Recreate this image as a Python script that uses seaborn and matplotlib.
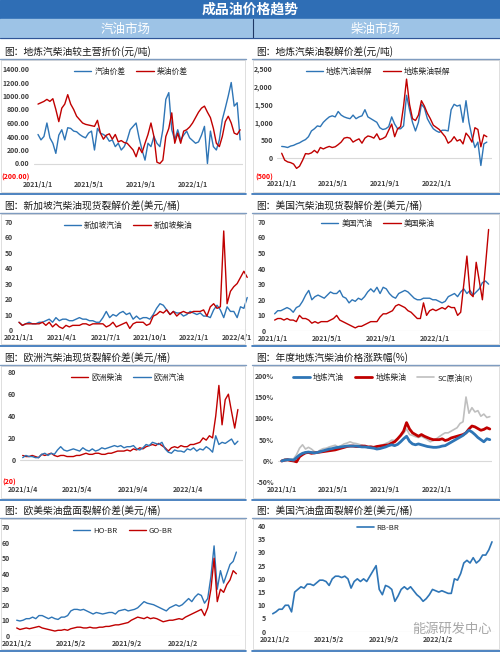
import pandas as pd
import numpy as np
import matplotlib
matplotlib.use("Agg")
import matplotlib.pyplot as plt
import seaborn as sns
from matplotlib.patches import Rectangle
from matplotlib.lines import Line2D

sns.set_style("white")
plt.rcParams['font.family'] = ['Noto Sans CJK SC', 'DejaVu Sans']
plt.rcParams['axes.unicode_minus'] = False

W, H = 500, 653
BLUE = "#2E75B6"
RED = "#C00000"
GRAY = "#BFBFBF"

# ---- data (weekly readings) ----
gas_disc = [430, 350, 400, 600, 380, 300, 150, 420, 500, 350, 530, 520, 480, 470, 430, 400, 380, 450, 480, 200,
            520, 450, 430, 400, 330, 350, 250, 300, 200, 250, 350, 500, 550, 600, 380, 200, 50, 300, 250, 400,
            300, 250, 500, 950, 1050, 500, 350, 500, 350, 420, 480, 380, 340, 300, 320, 420, 550, 0, 480, 250,
            200, 350, 650, 820, 1000, 1200, 850, 900, 350]
diesel_disc = [880, 900, 920, 950, 920, 960, 800, 620, 820, 880, 1020, 880, 800, 700, 650, 600, 580, 570, 560, 550,
               640, 450, 360, 420, 440, 360, 430, 320, 340, 310, 300, 250, 200, 100, 240, 160, 300, 430, 600, 400,
               20, 0, 50, 400, 520, 750, 300, 450, 300, 480, 500, 540, 600, 680, 760, 820, 850, 760, 680, 520,
               300, 250, 400, 620, 700, 600, 450, 430, 500]

local_gas_crack = [330, 320, 300, 340, 360, 400, 430, 480, 520, 600, 760, 820, 900, 880, 1000, 1080, 1150, 1180, 1150, 1300,
                   1200, 1150, 1120, 1100, 1200, 1100, 1150, 1180, 1350, 1150, 1100, 1050, 1000, 850, 800, 820, 880, 1150, 950, 820,
                   820, 900, 1750, 1350, 1000, 760, 1000, 1500, 1400, 1100, 950, 820, 760, 720, 780, 780, 760, 1350, 1500, 1450,
                   1480, 1000, 1600, 1000, 600, 300, 450, -200, 400, 450]
local_diesel_crack = [140, -50, -100, -120, -160, -280, -220, -60, 130, 120, 150, 220, 150, 300, 260, 300, 330, 300, 320, 380,
                      450, 560, 580, 560, 450, 500, 540, 420, 560, 620, 600, 560, 680, 520, 550, 600, 780, 950, 600, 820,
                      880, 1450, 2200, 1500, 1100, 1050, 1200, 1600, 1450, 1250, 1100, 920, 860, 800, 700, 600, 420, 480, 600, 480,
                      520, 400, 700, 600, 450, 850, 800, 320, 650, 600]

sg_gas = [5, 3, 4, 5, 4, 4, 5, 5, 6, 7, 5, 8, 6, 7, 7, 6, 6, 7, 8, 7,
          7, 6, 6, 5, 5, 8, 12, 8, 10, 9, 11, 12, 10, 11, 7, 9, 7, 8, 8, 7,
          10, 14, 17, 16, 13, 10, 12, 11, 11, 9, 10, 12, 11, 10, 11, 9, 9, 8, 13, 16,
          13, 8, 15, 12, 12, 8, 15, 14, 21]
sg_diesel = [5, 3, 4, 4, 4, 4, 4, 5, 3, 5, 2, 4, 2, 1, 3, 2, 3, 3, 3, 4,
             4, 3, 4, 4, 4, 4, 2, 3, 5, 2, 3, 4, 5, 1, 4, 5, 5, 5, 3, 4,
             9, 10, 12, 11, 13, 10, 12, 9, 11, 12, 11, 11, 12, 12, 12, 13, 9, 15, 17, 14,
             15, 64, 17, 25, 28, 30, 34, 38, 34]

us_gas = [11, 13, 13, 14, 15, 14, 12, 15, 16, 19, 23, 26, 20, 22, 23, 22, 21, 23, 25, 24,
          24, 26, 22, 21, 18, 20, 19, 21, 20, 22, 25, 27, 25, 28, 24, 28, 27, 24, 22, 21,
          24, 25, 26, 25, 23, 21, 20, 20, 21, 21, 21, 20, 20, 19, 18, 19, 22, 23, 24, 22,
          25, 27, 24, 26, 23, 25, 27, 31, 32, 30]
us_diesel = [7, 8, 8, 7, 8, 7, 7, 6, 10, 8, 8, 7, 5, 6, 5, 6, 6, 6, 7, 8,
             10, 7, 6, 5, 4, 3, 2, 3, 3, 4, 5, 6, 6, 6, 9, 11, 11, 12, 13, 16,
             17, 16, 15, 13, 12, 10, 8, 8, 18, 10, 13, 14, 13, 14, 15, 14, 16, 15, 15, 10,
             12, 30, 48, 24, 22, 44, 32, 20, 42, 65]

eu_diesel = [4, 3, 3, 4, 3, 2, 5, 4, 5, 6, 4, 3, 4, 4, 3, 3, 3, 4, 4, 5,
             6, 5, 5, 6, 6, 5, 5, 6, 6, 7, 8, 8, 8, 9, 8, 10, 9, 11, 10, 12,
             13, 14, 13, 15, 13, 11, 8, 11, 12, 11, 13, 12, 12, 14, 14, 15, 16, 20, 18, 22,
             20, 40, 68, 32, 55, 60, 44, 29, 46]
eu_gas = [2, 4, 3, 3, 2, 2, 5, 6, 4, 6, 5, 9, 12, 9, 8, 9, 10, 9, 8, 11,
          9, 8, 10, 8, 9, 11, 10, 11, 12, 13, 12, 13, 11, 12, 12, 13, 10, 9, 11, 14,
          13, 16, 15, 14, 16, 10, 7, 6, 9, 8, 8, 7, 10, 9, 11, 8, 10, 9, 12, 10,
          7, 22, 14, 16, 15, 17, 19, 14, 17]

yoy_gas = [0, 2, 3, 3, 2, 8, 14, 18, 20, 21, 20, 19, 20, 22, 24, 26, 28, 29, 31, 32,
           33, 34, 35, 35, 35, 35, 34, 33, 33, 32, 31, 30, 28, 29, 31, 33, 36, 38, 36, 39,
           45, 52, 58, 46, 40, 38, 40, 38, 36, 34, 33, 32, 32, 33, 35, 36, 40, 44, 48, 52,
           56, 60, 66, 72, 68, 62, 55, 50, 45, 52, 50]
yoy_diesel = [0, 2, 3, 1, 0, -2, 10, 15, 19, 20, 18, 19, 20, 21, 22, 23, 24, 25, 26, 28,
              30, 32, 34, 35, 35, 34, 34, 35, 35, 33, 33, 32, 34, 35, 36, 37, 38, 42, 45, 52,
              60, 70, 90, 75, 66, 62, 58, 62, 58, 55, 52, 50, 50, 50, 52, 48, 50, 54, 56, 58,
              60, 62, 66, 75, 82, 80, 76, 72, 74, 78, 75]
yoy_sc = [0, 5, 4, 3, 5, 15, 30, 38, 28, 32, 28, 22, 20, 26, 29, 30, 33, 35, 37, 33,
          36, 40, 42, 45, 42, 41, 39, 37, 34, 32, 35, 30, 33, 36, 38, 41, 44, 49, 48, 53,
          58, 65, 75, 62, 60, 57, 55, 58, 54, 50, 45, 48, 52, 57, 62, 66, 66, 70, 74, 78,
          88, 92, 150, 112, 125, 115, 118, 105, 110, 102, 104]

ho_br = [10, 9.5, 10, 11, 11, 12, 11, 13, 13, 12, 11, 12, 11, 10.5, 12, 12, 13, 16, 17, 17,
         16.5, 17, 16, 15, 14, 15, 14.5, 14, 14.5, 15, 15, 14, 16, 16.5, 17, 16, 16.5, 17, 18, 20,
         22, 21, 20.5, 20, 19, 18, 17, 16, 18, 19, 20, 19, 20, 22, 24, 22, 25, 27, 26, 21,
         24, 38, 58, 30, 42, 34, 40, 46, 48, 54]
go_br = [5, 4, 4.5, 5, 4.5, 5, 5.5, 6, 5, 4.5, 4, 3.5, 3, 3.5, 3.5, 4, 3.5, 4.5, 5, 5.5,
         5.5, 5, 5, 5.5, 5, 5, 5.5, 5.5, 6, 6, 6.5, 7, 7, 7.5, 8, 8.5, 10, 11, 12, 11.5,
         11, 12, 11, 11.5, 11, 10, 9, 9.5, 10, 10, 10.5, 11, 10.5, 12, 13, 14, 15, 16, 17, 13,
         18, 30, 50, 22, 30, 28, 33, 36, 42, 40]

rb_br = [6.8, 7.5, 8.5, 8.5, 10, 10, 7.5, 15, 16, 17, 16.5, 18, 18, 17.5, 18.5, 19.5, 19.5, 19, 17.5, 20,
         21, 21, 20.5, 21, 20, 16.5, 19, 20, 19, 20, 19, 21, 23, 25, 16, 14, 17.5, 17, 16, 11.5,
         13.5, 16, 17, 16, 17, 15.5, 14, 13, 11.5, 12.5, 14, 16, 15.5, 15, 15.5, 15, 14.5, 14.5, 20, 19.5,
         22, 26, 27, 26, 28, 26, 27, 29, 29, 31, 34]


def weekly(start, vals):
    return pd.date_range(start, periods=len(vals), freq="7D")


fig = plt.figure(figsize=(5, 6.53), dpi=100)


def fx(x):
    return x / W


def fy(y):
    return 1 - y / H


def add_axes(l, t, r, b):
    return fig.add_axes([l / W, 1 - b / H, (r - l) / W, (b - t) / H])


# ---- header ----
fig.add_artist(Rectangle((0, fy(19)), 1, 19 / H, transform=fig.transFigure, color="#2F6EB5", zorder=0))
fig.add_artist(Rectangle((0, fy(38)), 1, 19 / H, transform=fig.transFigure, color="#9DC3E6", zorder=0))
fig.text(0.5, fy(10), "成品油价格趋势", color="white", fontsize=10, fontweight="bold", ha="center", va="center")
fig.text(fx(126), fy(29), "汽油市场", color="white", fontsize=9, ha="center", va="center")
fig.text(fx(376), fy(29), "柴油市场", color="white", fontsize=9, ha="center", va="center")
fig.add_artist(Line2D([fx(253), fx(253)], [fy(19), fy(38)], color="#1F3864", lw=0.8))
fig.add_artist(Line2D([0, 1], [fy(38), fy(38)], color="#2F5597", lw=0.8))

# ---- panel frames ----
cols = [(0, 246), (252, 500)]
rows = [(52, 59, 194), (206, 213, 346), (358, 365, 500), (511, 518, 651)]
titles = [["图：地炼汽柴油较主营折价(元/吨)", "图：地炼汽柴油裂解价差(元/吨)"],
          ["图：新加坡汽柴油现货裂解价差(美元/桶)", "图：美国汽柴油现货裂解价差(美元/桶)"],
          ["图：欧洲汽柴油现货裂解价差(美元/桶)", "图：年度地炼汽柴油价格涨跌幅(%)"],
          ["图：欧美柴油盘面裂解价差(美元/桶)", "图：美国汽油盘面裂解价差(美元/桶)"]]
for ri, (ty, uy, by) in enumerate(rows):
    for ci, (cl, cr) in enumerate(cols):
        fig.text(fx(cl + 4), fy(ty), titles[ri][ci], fontsize=7, color="#1A1A1A", ha="left", va="center")
        fig.add_artist(Line2D([fx(cl), fx(cr)], [fy(uy), fy(uy)], color="#7F9CC0", lw=1.0))
        fig.add_artist(Rectangle((fx(cl + 1), fy(by - 2)), (cr - cl - 2) / W, (by - 2 - uy - 1) / H,
                                 transform=fig.transFigure, fill=False, edgecolor="#D9D9D9", lw=0.6))
        fig.add_artist(Line2D([fx(cl), fx(cr)], [fy(by), fy(by)], color="#2F6EB5", lw=1.2))


def set_xrange(ax, d0, px0, d1, px1, left, right):
    d0, d1 = pd.Timestamp(d0), pd.Timestamp(d1)
    ppd = (px1 - px0) / (d1 - d0).days
    ax.set_xlim(d0 + pd.Timedelta(days=(left - px0) / ppd), d0 + pd.Timedelta(days=(right - px0) / ppd))


def style(ax, yticks, ylabels, xdates, xlabels):
    ax.set_yticks(yticks)
    ax.set_yticklabels(ylabels, fontweight="bold")
    ax.set_ylim(yticks[0], yticks[-1])
    ax.set_xticks(pd.to_datetime(xdates))
    ax.set_xticklabels(xlabels, fontweight="bold")
    for s in ax.spines.values():
        s.set_visible(False)
    ax.tick_params(length=0, labelsize=5, colors="#404040", pad=3)
    for lab in ax.get_yticklabels():
        if lab.get_text().startswith("("):
            lab.set_color("#FF0000")
    ax.axhline(0, color="#D9D9D9", lw=0.8, zorder=0)
    ax.set_xlabel("")
    ax.set_ylabel("")
    ax.patch.set_alpha(0)
    ax.grid(False)


def legend(items, cx, cy):
    handles = [Line2D([], [], color=c, lw=lw) for _, c, lw in items]
    fig.legend(handles, [n for n, _, _ in items], loc="center", bbox_to_anchor=(fx(cx), fy(cy)),
               ncol=len(items), frameon=False, fontsize=5.6, handlelength=2.2,
               columnspacing=1.4, handletextpad=0.4, borderaxespad=0)


def line(ax, start, vals, color, lw=1.0):
    sns.lineplot(x=weekly(start, vals), y=vals, ax=ax, color=color, linewidth=lw)


# P1
ax = add_axes(34, 69, 243, 177)
line(ax, "2021-01-01", gas_disc, BLUE)
line(ax, "2021-01-01", diesel_disc, RED)
yt = list(range(-200, 1401, 200))
style(ax, yt, [f"({-v:.2f})" if v < 0 else f"{v:.2f}" for v in yt],
      ["2021-01-01", "2021-05-01", "2021-09-01", "2022-01-01"], ["2021/1/1", "2021/5/1", "2021/9/1", "2022/1/1"])
set_xrange(ax, "2021-01-01", 38, "2022-01-01", 193, 34, 243)
legend([("汽油价差", BLUE, 1.0), ("柴油价差", RED, 1.0)], 131, 72)

# P2
ax = add_axes(277, 68.3, 492, 176.3)
line(ax, "2021-01-01", local_gas_crack, BLUE)
line(ax, "2021-01-01", local_diesel_crack, RED)
yt = list(range(-500, 2501, 500))
style(ax, yt, [f"({-v:,})" if v < 0 else f"{v:,}" for v in yt],
      ["2021-01-01", "2021-05-01", "2021-09-01", "2022-01-01"], ["2021/1/1", "2021/5/1", "2021/9/1", "2022/1/1"])
set_xrange(ax, "2021-01-01", 281.7, "2022-01-01", 436.7, 277, 492)
legend([("地炼汽油裂解", BLUE, 1.0), ("地炼柴油裂解", RED, 1.0)], 378, 72)

# P3
ax = add_axes(17, 221.7, 248, 330)
line(ax, "2021-01-01", sg_gas, BLUE)
line(ax, "2021-01-01", sg_diesel, RED)
yt = list(range(0, 71, 10))
style(ax, yt, [str(v) for v in yt],
      ["2021-01-01", "2021-04-01", "2021-07-01", "2021-10-01", "2022-01-01", "2022-04-01"],
      ["2021/1/1", "2021/4/1", "2021/7/1", "2021/10/1", "2022/1/1", "2022/4/1"])
set_xrange(ax, "2021-01-01", 19, "2022-01-01", 194, 17, 248)
legend([("新加坡汽油", BLUE, 1.0), ("新加坡柴油", RED, 1.0)], 128, 226)

# P4
ax = add_axes(270, 221.7, 492, 331)
line(ax, "2021-01-04", us_gas, BLUE)
line(ax, "2021-01-04", us_diesel, RED)
style(ax, yt, [str(v) for v in yt],
      ["2021-01-01", "2021-05-01", "2021-09-01", "2022-01-01"], ["2021/1/1", "2021/5/1", "2021/9/1", "2022/1/1"])
set_xrange(ax, "2021-01-01", 273.3, "2022-01-01", 435, 270, 492)
legend([("美国汽油", BLUE, 1.0), ("美国柴油", RED, 1.0)], 378, 224)

# P5
ax = add_axes(20, 372.3, 243, 481.7)
line(ax, "2021-01-04", eu_diesel, RED)
line(ax, "2021-01-04", eu_gas, BLUE)
yt = list(range(-20, 81, 20))
style(ax, yt, [f"({-v})" if v < 0 else str(v) for v in yt],
      ["2021-01-04", "2021-05-04", "2021-09-04", "2022-01-04"], ["2021/1/4", "2021/5/4", "2021/9/4", "2022/1/4"])
set_xrange(ax, "2021-01-04", 22.7, "2022-01-04", 187.7, 20, 243)
legend([("欧洲柴油", RED, 1.0), ("欧洲汽油", BLUE, 1.0)], 128, 378)

# P6
ax = add_axes(278, 375.7, 492, 482.3)
line(ax, "2021-01-01", yoy_sc, GRAY, 1.2)
line(ax, "2021-01-01", yoy_diesel, RED, 2.0)
line(ax, "2021-01-01", yoy_gas, BLUE, 2.0)
yt = list(range(-50, 201, 50))
style(ax, yt, [f"{v}%" for v in yt],
      ["2021-01-01", "2021-05-01", "2021-09-01", "2022-01-01"], ["2021/1/1", "2021/5/1", "2021/9/1", "2022/1/1"])
set_xrange(ax, "2021-01-01", 281.7, "2022-01-01", 436.7, 278, 492)
legend([("地炼汽油", BLUE, 2.0), ("地炼柴油", RED, 2.0), ("SC原油(R)", GRAY, 1.2)], 383, 378)

# P7
ax = add_axes(14, 527.3, 240, 635.7)
line(ax, "2021-01-02", ho_br, BLUE)
line(ax, "2021-01-02", go_br, RED)
yt = list(range(0, 71, 10))
style(ax, yt, [str(v) for v in yt],
      ["2021-01-02", "2021-05-02", "2021-09-02", "2022-01-02"], ["2021/1/2", "2021/5/2", "2021/9/2", "2022/1/2"])
set_xrange(ax, "2021-01-02", 16.7, "2022-01-02", 182.7, 14, 240)
legend([("HO-BR", BLUE, 1.0), ("GO-BR", RED, 1.0)], 123, 531)

# P8
ax = add_axes(270, 526, 495, 631.7)
line(ax, "2020-12-28", rb_br, BLUE, 1.2)
yt = list(range(0, 41, 5))
style(ax, yt, [str(v) for v in yt],
      ["2021-01-02", "2021-05-02", "2021-09-02", "2022-01-02"], ["2021/1/2", "2021/5/2", "2021/9/2", "2022/1/2"])
set_xrange(ax, "2021-01-02", 275, "2022-01-02", 438.3, 270, 495)
legend([("RB-BR", BLUE, 1.2)], 378, 528)

fig.text(fx(452), fy(629), "能源研发中心", fontsize=9.5, color="#A6A6A6", ha="center", va="center")

fig.savefig("out.png", dpi=100)
